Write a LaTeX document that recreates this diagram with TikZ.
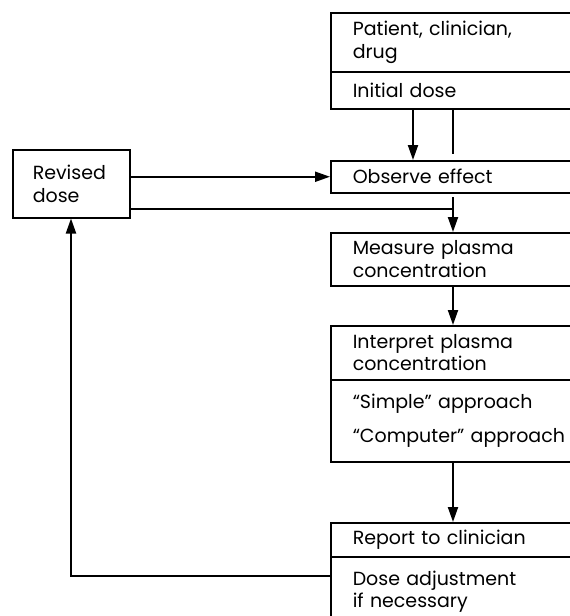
\documentclass[tikz,border=0pt]{standalone}
\usepackage{fontspec}
\setmainfont{Poppins}
\usetikzlibrary{arrows.meta}
\begin{document}
\begin{tikzpicture}[x=1pt,y=-1pt,
  box/.style={draw,line width=1.5pt,anchor=north west,inner xsep=22pt,inner ysep=0pt,
    text width=250pt,align=left,font=\fontsize{19}{22.5}\selectfont},
  lbox/.style={draw,line width=1.5pt,anchor=north west,inner xsep=20pt,inner ysep=0pt,
    text width=77pt,align=left,font=\fontsize{19}{22.5}\selectfont},
  ln/.style={line width=2pt},
  arr/.style={line width=2pt,-{Triangle[length=15pt,width=10pt]}}]
\clip (0,0) rectangle (570,616);
% right-hand column
\node[box,minimum height=59pt] (pcd) at (330,12) {Patient, clinician,\\drug};
\node[box,minimum height=37pt] (init) at (330,71) {Initial dose};
\node[box,minimum height=32pt] (obs) at (330,160) {Observe effect};
\node[box,minimum height=53pt] (meas) at (330,232) {Measure plasma\\concentration};
\node[box,minimum height=54pt] (interp) at (330,325) {Interpret plasma\\concentration};
\node[box,minimum height=82pt] (appr) at (330,379) {“Simple” approach\\[11pt]“Computer” approach};
\node[box,minimum height=34pt] (rep) at (330,522) {Report to clinician};
\node[box,minimum height=70pt] (adj) at (330,556) {Dose adjustment\\if necessary};
% left box
\node[lbox,minimum height=68pt] (rev) at (12,149) {Revised\\dose};
% guide coordinates
\coordinate (xa) at (413,0);
\coordinate (xb) at (453,0);
\coordinate (g1) at (453,154);
\coordinate (g2) at (453,197);
\coordinate (j) at (453,209);
\coordinate (fb) at (71,576);
% connectors
\draw[arr] (init.south -| xa) -- (obs.north -| xa);
\draw[ln] (init.south -| xb) -- (g1);
\draw[arr] (g2) -- (meas.north -| xb);
\draw[arr] (rev.east |- obs.west) -- (obs.west);
\draw[ln] (rev.east |- j) -- (j);
\draw[arr] (meas.south -| xb) -- (interp.north -| xb);
\draw[arr] (appr.south -| xb) -- (rep.north -| xb);
\draw[arr] (adj.west |- fb) -- (fb) -- (rev.south -| fb);
\end{tikzpicture}
\end{document}
